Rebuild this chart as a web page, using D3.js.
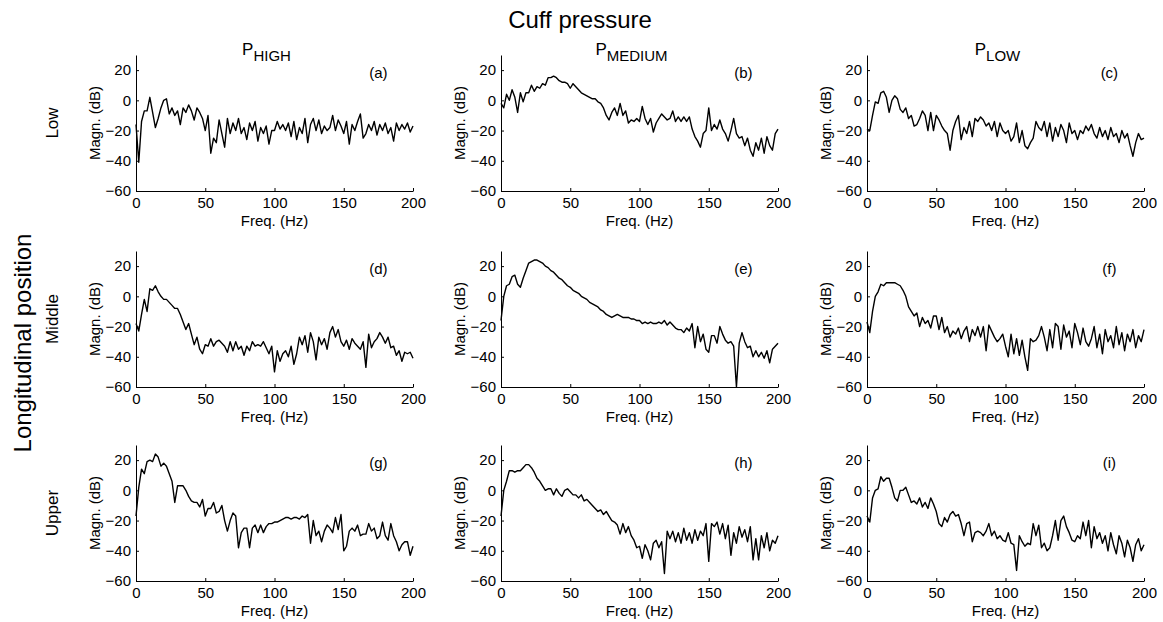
<!DOCTYPE html>
<html>
<head>
<meta charset="utf-8">
<script src="https://cdnjs.cloudflare.com/ajax/libs/d3/7.8.5/d3.min.js"></script>
<style>
  body { margin: 0; background: #fff; }
  svg text { font-family: "Liberation Sans", Arial, sans-serif; fill: #000; }
</style>
</head>
<body>
<div class="chart"></div>
<script>
var freqHz = [0,2,4,6,8,10,12,14,16,18,20,22,24,26,28,30,32,34,36,38,40,42,44,46,48,50,
  52,54,56,58,60,62,64,66,68,70,72,74,76,78,80,82,84,86,88,90,92,94,96,98,100,
  102,104,106,108,110,112,114,116,118,120,122,124,126,128,130,132,134,136,138,140,
  142,144,146,148,150,152,154,156,158,160,162,164,166,168,170,172,174,176,178,180,
  182,184,186,188,190,192,194,196,198,200];

// magnitude (dB) per panel
var lowHigh = [-16,-41,-14,-7,-7,2,-8,-18,-12,-5,0,1,-9,-5,-10,-7,-16,-5,-8,-3,-7,-13,-5,-8,-12,-20,
  -10,-35,-25,-28,-13,-22,-31,-12,-22,-15,-20,-12,-22,-18,-26,-15,-20,-14,-27,-18,-22,-17,-29,-20,-20,
  -14,-19,-16,-20,-15,-24,-14,-26,-18,-22,-12,-28,-16,-12,-20,-13,-22,-17,-20,-18,
  -10,-20,-13,-17,-22,-14,-29,-16,-20,-14,-9,-25,-22,-16,-20,-14,-23,-16,-20,-15,
  -22,-18,-27,-15,-20,-16,-19,-15,-21,-17];
var lowMedium = [-2,-5,4,0,7,2,-8,5,-1,5,5,10,6,9,8,11,10,15,15,16,15,13,12,12,11,8,
  11,9,7,5,4,3,2,1,1,-1,-2,-5,-10,-13,-8,-5,-10,-2,-10,-7,-15,-13,-14,-12,-14,
  -4,-12,-16,-12,-21,-15,-12,-9,-11,-13,-12,-7,-14,-11,-14,-11,-14,-11,-19,-24,
  -27,-31,-22,-20,-5,-20,-16,-19,-13,-19,-22,-27,-20,-12,-22,-25,-24,-30,-25,-33,
  -37,-28,-33,-25,-35,-24,-30,-33,-22,-19];
var lowLow = [-19,-20,-10,-1,-2,5,6,2,-8,0,3,1,-6,-8,-5,-12,-10,-17,-16,-12,-7,-10,-20,-8,-20,-10,
  -13,-17,-20,-22,-33,-20,-14,-10,-26,-18,-22,-14,-24,-12,-14,-11,-13,-17,-15,-20,-14,-24,-15,-20,-22,
  -20,-27,-24,-15,-28,-20,-30,-32,-28,-25,-14,-18,-20,-14,-24,-15,-27,-18,-24,-16,
  -20,-28,-15,-22,-20,-26,-20,-22,-17,-20,-16,-22,-25,-18,-24,-20,-26,-18,-24,-22,
  -28,-20,-25,-22,-30,-37,-28,-22,-26,-25];
var midHigh = [-18,-23,-12,-2,-10,5,4,7,3,0,-2,-2,-4,-6,-8,-8,-12,-17,-22,-18,-25,-32,-27,-35,-38,-32,
  -33,-28,-33,-30,-29,-31,-33,-37,-30,-36,-30,-35,-33,-39,-33,-36,-30,-33,-32,-33,-30,-34,-38,-33,-50,
  -36,-43,-38,-36,-40,-33,-45,-38,-27,-32,-26,-37,-24,-30,-42,-27,-32,-28,-35,-24,
  -20,-27,-22,-30,-33,-29,-35,-28,-31,-33,-35,-30,-47,-25,-34,-30,-28,-24,-27,-31,
  -27,-34,-33,-39,-36,-43,-37,-38,-37,-41];
var midMedium = [-16,0,7,8,13,14,8,6,12,17,22,23,24,24,23,22,20,19,17,16,14,12,11,9,7,6,
  4,3,2,0,-1,-2,-4,-5,-6,-7,-9,-10,-12,-13,-14,-13,-12,-13,-14,-14,-14,-15,-15,-16,-16,
  -18,-17,-18,-17,-18,-18,-17,-18,-16,-19,-17,-19,-21,-22,-22,-24,-21,-23,-18,-34,
  -20,-30,-25,-35,-37,-26,-26,-31,-20,-25,-29,-31,-30,-33,-60,-31,-24,-30,-34,-33,
  -40,-36,-40,-37,-41,-36,-44,-35,-33,-31];
var midLow = [-17,-24,-10,0,3,8,7,9,9,9,9,8,7,4,0,-7,-10,-13,-11,-20,-14,-18,-16,-21,-13,-13,
  -22,-14,-24,-20,-27,-23,-25,-21,-28,-23,-20,-30,-22,-26,-20,-27,-20,-36,-19,-23,-27,-30,-28,-25,-33,
  -40,-25,-38,-28,-39,-29,-40,-49,-28,-30,-29,-26,-20,-27,-36,-22,-34,-18,-20,-35,
  -19,-27,-23,-34,-18,-24,-32,-21,-30,-33,-28,-20,-34,-25,-38,-22,-30,-26,-34,-20,
  -32,-24,-36,-25,-30,-22,-34,-26,-30,-22];
var upHigh = [-17,2,14,11,19,20,19,24,22,16,18,16,11,6,-8,3,3,3,0,-4,-7,-8,-8,-11,-6,-17,
  -12,-12,-8,-15,-14,-10,-20,-27,-20,-15,-17,-38,-28,-25,-25,-38,-25,-23,-28,-23,-28,-24,-22,-22,-21,
  -21,-20,-19,-18,-18,-19,-18,-18,-19,-17,-18,-16,-35,-20,-30,-27,-34,-27,-23,-25,
  -28,-18,-26,-16,-40,-37,-27,-25,-27,-23,-30,-29,-29,-22,-27,-25,-32,-30,-21,-30,
  -33,-22,-30,-34,-40,-36,-34,-34,-43,-37];
var upMedium = [-17,0,6,13,13,12,13,13,15,17,17,15,12,8,6,3,0,1,1,-3,1,-2,-4,0,1,-1,
  -3,-3,-5,-3,-7,-6,-8,-10,-12,-14,-13,-16,-14,-17,-20,-21,-23,-29,-22,-28,-24,-30,-33,-38,-37,
  -45,-36,-40,-46,-35,-33,-38,-34,-55,-27,-32,-27,-34,-28,-35,-25,-33,-28,-35,-26,
  -33,-27,-30,-22,-47,-22,-24,-21,-29,-22,-32,-23,-43,-28,-35,-24,-31,-26,-34,-24,
  -46,-32,-46,-30,-38,-28,-40,-33,-35,-30];
var upLow = [-17,-21,-5,0,1,9,6,8,8,2,-5,-7,0,0,2,-3,-8,-7,-9,-5,-11,-8,-12,-5,-9,-14,
  -22,-24,-18,-21,-16,-14,-17,-16,-22,-30,-22,-21,-34,-28,-27,-28,-30,-27,-22,-30,-27,-32,-30,-33,-34,
  -28,-35,-36,-53,-30,-34,-37,-35,-36,-22,-30,-23,-38,-35,-40,-38,-30,-20,-33,-20,
  -17,-24,-28,-33,-34,-30,-32,-21,-30,-20,-38,-24,-32,-28,-35,-30,-40,-28,-36,-42,
  -30,-35,-44,-33,-38,-47,-36,-32,-40,-36];

var rowNames = ['Low', 'Middle', 'Upper'];
var colSubs = ['HIGH', 'MEDIUM', 'LOW'];
var panelTags = ['(a)', '(b)', '(c)', '(d)', '(e)', '(f)', '(g)', '(h)', '(i)'];
var panelSeries = [lowHigh, lowMedium, lowLow, midHigh, midMedium, midLow, upHigh, upMedium, upLow];
var xTicks = [0, 50, 100, 150, 200];
var yTicks = [-60, -40, -20, 0, 20];

var W = 1163, H = 622;
var colLeft = [136, 501, 867];
var rowTop = [55, 251, 445];
var pw = 277, ph = 136;

var svg = d3.select('.chart')
  .append('svg')
  .attr('width', W)
  .attr('height', H);

var x = d3.scaleLinear().domain([0, 200]).range([0, pw]);
var y = d3.scaleLinear().domain([-60, 30]).range([ph, 0]);

var line = d3.line()
  .x(function(d, i) { return x(freqHz[i]); })
  .y(function(d) { return y(d); });

panelSeries.forEach(function(vals, k) {
  var r = Math.floor(k / 3), c = k % 3;
  var g = svg.append('g')
    .attr('transform', 'translate(' + colLeft[c] + ',' + rowTop[r] + ')');

  // inward ticks, no box
  var xAxis = g.append('g')
    .attr('transform', 'translate(0,' + ph + ')')
    .call(d3.axisBottom(x).tickValues(xTicks).tickSize(-3).tickPadding(6).tickSizeOuter(0));
  var yAxis = g.append('g')
    .call(d3.axisLeft(y).tickValues(yTicks).tickSize(-3).tickPadding(5).tickSizeOuter(0));

  [xAxis, yAxis].forEach(function(a) {
    a.select('.domain').attr('stroke', '#000').attr('stroke-width', 1);
    a.selectAll('.tick line').attr('stroke', '#000');
    a.selectAll('.tick text').style('font-size', '15px').attr('fill', '#000');
  });

  g.append('path')
    .datum(vals)
    .attr('fill', 'none')
    .attr('stroke', '#000')
    .attr('stroke-width', 1.4)
    .attr('stroke-linejoin', 'round')
    .attr('d', line);

  g.append('text')
    .attr('x', x(175))
    .attr('y', y(18) + 5)
    .attr('text-anchor', 'middle')
    .style('font-size', '15px')
    .text(panelTags[k]);

  g.append('text')
    .attr('x', pw / 2)
    .attr('y', ph + 35)
    .attr('text-anchor', 'middle')
    .style('font-size', '15px')
    .text('Freq. (Hz)');

  g.append('text')
    .attr('transform', 'translate(-36,' + (ph / 2) + ') rotate(-90)')
    .attr('text-anchor', 'middle')
    .style('font-size', '15px')
    .text('Magn. (dB)');
});

// column titles: P with subscript
colSubs.forEach(function(s, c) {
  var t = svg.append('text')
    .attr('x', colLeft[c] + pw / 2 - 8)
    .attr('y', 55)
    .attr('text-anchor', 'middle')
    .style('font-size', '17px');
  t.append('tspan').text('P');
  t.append('tspan').attr('dy', 6).style('font-size', '15px').text(s);
});

svg.append('text')
  .attr('x', 580)
  .attr('y', 28)
  .attr('text-anchor', 'middle')
  .style('font-size', '24px')
  .text('Cuff pressure');

rowNames.forEach(function(n, r) {
  svg.append('text')
    .attr('transform', 'translate(58,' + (rowTop[r] + ph / 2) + ') rotate(-90)')
    .attr('text-anchor', 'middle')
    .style('font-size', '17px')
    .text(n);
});

svg.append('text')
  .attr('transform', 'translate(31,343) rotate(-90)')
  .attr('text-anchor', 'middle')
  .style('font-size', '24px')
  .text('Longitudinal position');
</script>
</body>
</html>
